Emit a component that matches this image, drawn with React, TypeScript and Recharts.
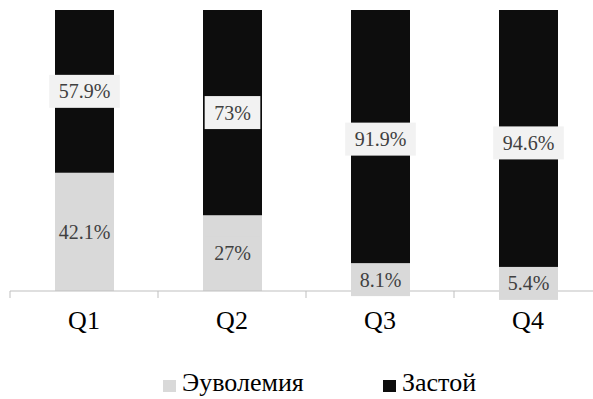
import { BarChart, Bar, XAxis, YAxis, LabelList, Legend } from "recharts";

const quarters = ["Q1", "Q2", "Q3", "Q4"];
const euvolemia = [42.1, 27, 8.1, 5.4];
const congestion = [57.9, 73, 91.9, 94.6];

const data = quarters.map((q, i) => ({
  q,
  euvolemia: euvolemia[i],
  congestion: congestion[i],
}));

const FONT = "Liberation Serif";
const CHART_W = 610;
const MARGIN = { top: 10, right: 8, left: 10, bottom: 0 };
const BAND = (CHART_W - MARGIN.left - MARGIN.right) / quarters.length;

// rough width of a label string in Times-like metrics
const textWidth = (s: string, size: number) => {
  let w = 0;
  for (const ch of s) {
    if (ch === "%") w += 0.833;
    else if (ch === ".") w += 0.25;
    else w += 0.5;
  }
  return w * size;
};

const boxedLabel = (bg: string, clip: boolean) => (props: any) => {
  const { x, y, width, height, value } = props;
  const text = `${value}%`;
  const size = 20;
  let w = textWidth(text, size) + 19;
  if (clip) w = Math.min(w, width);
  const h = 33;
  const cx = x + width / 2;
  const cy = y + height / 2;
  return (
    <g>
      <rect x={cx - w / 2} y={cy - h / 2} width={w} height={h} fill={bg} />
      <text x={cx} y={cy + 7} textAnchor="middle" fontFamily={FONT} fontSize={size} fill="#404040">
        {text}
      </text>
    </g>
  );
};

const QuarterTick = (props: any) => {
  const { x, y, payload } = props;
  const edge = x - BAND / 2;
  return (
    <g>
      <line x1={edge} y1={y} x2={edge} y2={y + 7} stroke="#bfbfbf" />
      <text x={x} y={y + 38} textAnchor="middle" fontFamily={FONT} fontSize={26} fill="#000">
        {payload.value}
      </text>
    </g>
  );
};

const LegendBox = () => {
  const items = [
    { name: "Эуволемия", color: "#d9d9d9", left: 163 },
    { name: "Застой", color: "#0d0d0d", left: 383 },
  ];
  return (
    <div style={{ position: "relative", height: 48 }}>
      {items.map((it) => (
        <div
          key={it.name}
          style={{
            position: "absolute",
            left: it.left,
            top: 17,
            display: "flex",
            alignItems: "flex-start",
            fontFamily: FONT,
            fontSize: 26,
            lineHeight: "30px",
            color: "#000",
            whiteSpace: "nowrap",
          }}
        >
          <span style={{ width: 13, height: 12, marginTop: 12, background: it.color, marginRight: 6 }} />
          {it.name}
        </div>
      ))}
    </div>
  );
};

export default function App() {
  return (
    <div style={{ position: "absolute", left: 0, top: 0, width: 593, height: 399, overflow: "hidden", background: "#fff" }}>
      <BarChart width={CHART_W} height={399} data={data} margin={MARGIN}>
        <XAxis
          dataKey="q"
          height={60}
          tickLine={false}
          tickSize={0}
          tickMargin={0}
          axisLine={{ stroke: "#bfbfbf" }}
          tick={<QuarterTick />}
          interval={0}
        />
        <YAxis hide domain={[0, 100]} />
        <Legend verticalAlign="bottom" height={48} wrapperStyle={{ left: 0, width: 593 }} content={<LegendBox />} />
        <Bar dataKey="euvolemia" stackId="s" fill="#d9d9d9" barSize={59} isAnimationActive={false}>
          <LabelList dataKey="euvolemia" content={boxedLabel("#d9d9d9", true)} />
        </Bar>
        <Bar dataKey="congestion" stackId="s" fill="#0d0d0d" barSize={59} isAnimationActive={false}>
          <LabelList dataKey="congestion" content={boxedLabel("#f2f2f2", false)} />
        </Bar>
      </BarChart>
    </div>
  );
}
